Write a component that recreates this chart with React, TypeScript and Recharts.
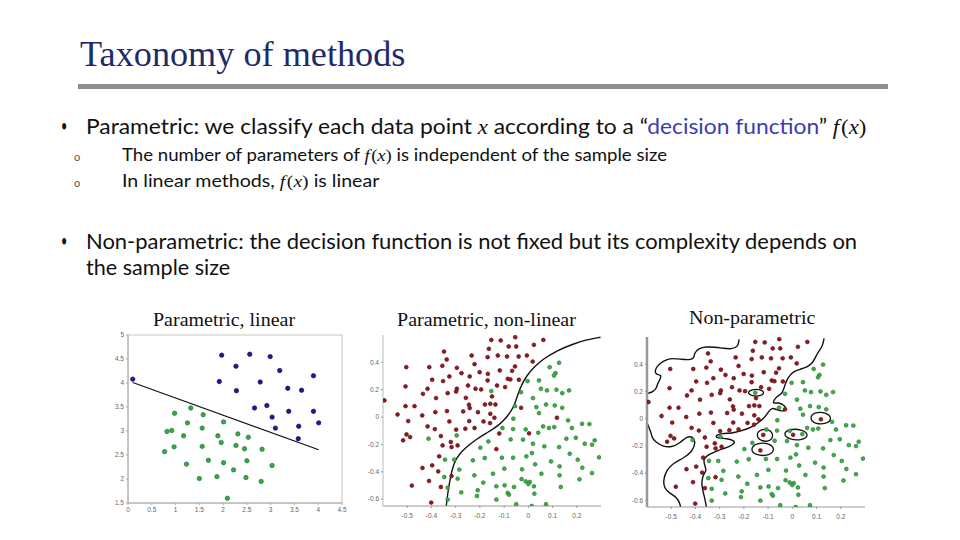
import React, { useLayoutEffect, useRef, useState } from "react";
import { ComposedChart, Scatter, Line, XAxis, YAxis, ReferenceArea } from "recharts";

type Pt = [number, number];

// --- left plot: linear boundary ---
const linearBlue: Pt[] = [
  [0.1, 4.08], [1.97, 4.58], [2.56, 4.6], [2.99, 4.55], [2.27, 4.35], [3.19, 4.26],
  [3.9, 4.15], [1.92, 4.03], [2.78, 4.02], [2.28, 3.84], [3.36, 3.89], [3.65, 3.85],
  [2.66, 3.48], [2.92, 3.53], [3.38, 3.41], [3.9, 3.41], [3.03, 3.29], [3.1, 3.06],
  [3.59, 3.1], [4.01, 3.17], [3.58, 2.84],
];
const linearGreen: Pt[] = [
  [1.32, 3.48], [0.98, 3.37], [1.58, 3.34], [1.25, 3.17], [2.01, 3.19], [0.82, 2.99],
  [0.92, 3.01], [1.56, 3.06], [1.17, 2.9], [1.89, 2.9], [2.31, 2.94], [2.53, 2.87],
  [1.96, 2.76], [0.97, 2.67], [1.56, 2.68], [2.27, 2.7], [2.45, 2.63], [2.82, 2.62],
  [0.77, 2.57], [1.69, 2.39], [1.23, 2.31], [2.01, 2.34], [2.5, 2.38], [3.03, 2.28],
  [2.22, 2.19], [1.5, 2.01], [1.87, 2.05], [2.48, 2.03], [2.8, 1.95], [2.09, 1.6],
];
const linearBoundary: Pt[] = [[0.1, 4.01], [4.01, 2.61]];
const linearXTicks = [0, 0.5, 1, 1.5, 2, 2.5, 3, 3.5, 4, 4.5];
const linearYTicks = [1.5, 2, 2.5, 3, 3.5, 4, 4.5, 5];

// --- shared two-class sample (middle and right plots) ---
const redPoints: Pt[] = [
  [-0.054, 0.584], [-0.153, 0.564], [-0.114, 0.56], [0.062, 0.564], [-0.081, 0.516], [-0.05, 0.516],
  [-0.163, 0.499], [0.023, 0.528], [-0.348, 0.479], [-0.234, 0.45], [-0.126, 0.45], [-0.088, 0.443],
  [-0.04, 0.443], [-0.006, 0.45], [-0.337, 0.421], [-0.168, 0.438], [0.018, 0.406], [-0.504, 0.365],
  [-0.409, 0.365], [-0.355, 0.375], [-0.222, 0.387], [-0.295, 0.36], [-0.055, 0.37], [-0.118, 0.341],
  [-0.201, 0.328], [-0.167, 0.316], [-0.276, 0.321], [-0.067, 0.338], [-0.326, 0.297], [-0.242, 0.297],
  [-0.397, 0.273], [-0.352, 0.263], [-0.168, 0.268], [-0.085, 0.28], [-0.074, 0.275], [-0.039, 0.273],
  [-0.507, 0.224], [-0.416, 0.207], [-0.295, 0.207], [-0.249, 0.231], [-0.333, 0.175], [-0.298, 0.187],
  [-0.218, 0.207], [-0.195, 0.202], [-0.129, 0.231], [-0.096, 0.219], [-0.435, 0.17], [-0.381, 0.139],
  [-0.594, 0.122], [-0.258, 0.141], [-0.15, 0.151], [-0.179, 0.092], [-0.157, 0.097], [-0.136, 0.092],
  [-0.507, 0.08], [-0.47, 0.08], [-0.245, 0.09], [-0.336, 0.044], [-0.269, 0.041], [-0.384, 0.036],
  [-0.242, 0.066], [-0.208, 0.036], [-0.03, 0.068], [-0.438, 0.012], [-0.54, 0.019], [-0.157, 0.024],
  [-0.326, -0.032], [-0.244, -0.029], [-0.185, -0.032], [-0.14, -0.005], [-0.496, -0.029], [-0.416, -0.068],
  [-0.298, -0.092], [-0.26, -0.085], [-0.222, -0.08], [-0.158, -0.044], [-0.386, -0.088], [-0.503, -0.127],
  [-0.488, -0.146], [-0.361, -0.139], [0.118, -0.005], [-0.517, -0.17], [-0.32, -0.182], [-0.354, -0.207],
  [-0.317, -0.219], [-0.292, -0.207], [-0.132, -0.234], [-0.368, -0.287], [-0.397, -0.353], [-0.437, -0.372],
  [-0.372, -0.397], [-0.317, -0.431], [-0.41, -0.467], [-0.361, -0.511], [-0.481, -0.501], [-0.401, -0.625],
  [0.003, -0.119], [-0.12, -0.12],
];
const greenPoints: Pt[] = [
  [0.088, 0.365], [0.127, 0.397], [0.112, 0.321], [0.106, 0.304], [-0.003, 0.263], [0.044, 0.268],
  [-0.03, 0.182], [-0.153, 0.19], [0.077, 0.195], [0.052, 0.207], [0.14, 0.175], [0.168, 0.195],
  [0.116, 0.2], [0.019, 0.139], [0.073, 0.092], [0.109, 0.085], [0.033, 0.073], [0.14, 0.068],
  [0.044, 0.029], [-0.062, -0.012], [0.164, -0.024], [0.222, -0.049], [0.252, -0.051], [0.061, -0.068],
  [0.085, -0.08], [0.107, -0.073], [0.18, -0.08], [-0.107, -0.08], [-0.011, -0.09], [-0.063, -0.088],
  [0.041, -0.114], [-0.412, -0.158], [-0.296, -0.134], [-0.165, -0.178], [-0.073, -0.163], [-0.022, -0.165],
  [0.019, -0.195], [0.066, -0.214], [0.157, -0.158], [0.196, -0.151], [0.233, -0.195], [0.263, -0.202],
  [0.274, -0.17], [-0.198, -0.224], [0.127, -0.219], [0.171, -0.268], [-0.229, -0.316], [-0.18, -0.299],
  [-0.109, -0.297], [-0.063, -0.297], [-0.008, -0.287], [0.015, -0.263], [-0.344, -0.311], [-0.306, -0.311],
  [0.094, -0.324], [0.204, -0.311], [0.292, -0.294], [0.028, -0.345], [0.129, -0.36], [0.223, -0.37],
  [-0.285, -0.384], [-0.099, -0.377], [-0.026, -0.382], [-0.347, -0.438], [-0.292, -0.45], [-0.223, -0.426],
  [-0.146, -0.414], [0.054, -0.414], [0.129, -0.426], [0.263, -0.409], [-0.028, -0.453], [-0.011, -0.47],
  [0.006, -0.474], [0.211, -0.455], [0, -0.489], [-0.186, -0.479], [-0.098, -0.499], [-0.059, -0.511],
  [-0.132, -0.506], [0.023, -0.506], [0.134, -0.511], [-0.333, -0.516], [-0.085, -0.555], [-0.08, -0.567],
  [0.025, -0.56], [-0.209, -0.535], [-0.212, -0.577], [-0.277, -0.55], [-0.333, -0.603], [-0.132, -0.603],
  [-0.05, -0.637], [0.014, -0.65], [0.073, -0.637], [-0.055, 0.08],
];
const xTicks = [-0.5, -0.4, -0.3, -0.2, -0.1, 0, 0.1, 0.2];
const yTicks = [-0.6, -0.4, -0.2, 0, 0.2, 0.4];

// middle plot: smooth parametric boundary
const smoothBoundary: Pt[] = [
  [-0.339, -0.652], [-0.333, -0.56], [-0.322, -0.438], [-0.306, -0.328], [-0.284, -0.268],
  [-0.256, -0.219], [-0.212, -0.158], [-0.164, -0.109], [-0.123, -0.061], [-0.095, -0.012],
  [-0.074, 0.036], [-0.058, 0.085], [-0.047, 0.146], [-0.03, 0.231], [-0.006, 0.304],
  [0.022, 0.365], [0.063, 0.426], [0.118, 0.487], [0.187, 0.535], [0.242, 0.567], [0.298, 0.584],
];

// right plot: non-parametric boundary pieces
const npTop: Pt[] = [
  [-0.22, 0.583], [-0.223, 0.529], [-0.251, 0.51], [-0.285, 0.517], [-0.32, 0.525], [-0.354, 0.529],
  [-0.388, 0.517], [-0.405, 0.48], [-0.405, 0.444], [-0.423, 0.431], [-0.457, 0.436], [-0.492, 0.444],
  [-0.519, 0.436], [-0.547, 0.407], [-0.565, 0.37], [-0.567, 0.333], [-0.554, 0.321], [-0.54, 0.321],
  [-0.547, 0.284], [-0.556, 0.26], [-0.561, 0.223], [-0.574, 0.199], [-0.595, 0.186],
];
const npMain: Pt[] = [
  [0.131, 0.59], [0.125, 0.529], [0.107, 0.493], [0.094, 0.444], [0.08, 0.402], [0.059, 0.377],
  [0.032, 0.363], [0.004, 0.346], [-0.012, 0.314], [-0.023, 0.284], [-0.03, 0.248], [-0.037, 0.211],
  [-0.044, 0.181], [-0.065, 0.162], [-0.076, 0.137], [-0.081, 0.108], [-0.058, 0.12], [-0.034, 0.1],
  [-0.023, 0.071], [-0.04, 0.051], [-0.065, 0.066], [-0.085, 0.081], [-0.099, 0.049], [-0.113, 0.012],
  [-0.131, -0.017], [-0.154, -0.047], [-0.182, -0.074], [-0.216, -0.093], [-0.251, -0.108],
  [-0.289, -0.108], [-0.32, -0.125], [-0.309, -0.145], [-0.271, -0.145], [-0.24, -0.162],
  [-0.237, -0.181], [-0.264, -0.211], [-0.295, -0.225], [-0.326, -0.25], [-0.354, -0.272],
  [-0.368, -0.304], [-0.361, -0.348], [-0.354, -0.382], [-0.368, -0.414], [-0.375, -0.463],
  [-0.371, -0.525], [-0.361, -0.586], [-0.354, -0.66],
];
const npLow: Pt[] = [
  [-0.6, -0.03], [-0.584, -0.096], [-0.579, -0.145], [-0.561, -0.176], [-0.533, -0.206],
  [-0.499, -0.211], [-0.464, -0.181], [-0.437, -0.132], [-0.409, -0.132], [-0.399, -0.176],
  [-0.413, -0.243], [-0.45, -0.292], [-0.492, -0.328], [-0.519, -0.377], [-0.533, -0.451],
  [-0.529, -0.512], [-0.506, -0.549], [-0.478, -0.578], [-0.464, -0.623], [-0.46, -0.66],
];
const npLoops: Pt[][] = [
  [[-0.187, 0.19], [-0.168, 0.215], [-0.13, 0.215], [-0.113, 0.19], [-0.13, 0.165], [-0.168, 0.165]],
  [[0.07, 0.005], [0.092, 0.05], [0.142, 0.045], [0.165, 0.0], [0.142, -0.04], [0.092, -0.04]],
  [[-0.04, -0.112], [-0.012, -0.075], [0.042, -0.08], [0.07, -0.12], [0.042, -0.16], [-0.012, -0.155]],
  [[-0.15, -0.12], [-0.133, -0.077], [-0.093, -0.08], [-0.076, -0.125], [-0.093, -0.17], [-0.133, -0.165]],
  [[-0.175, -0.225], [-0.148, -0.177], [-0.093, -0.18], [-0.07, -0.23], [-0.098, -0.275], [-0.152, -0.27]],
];

const toXY = (pts: Pt[]) => pts.map(([x, y]) => ({ x, y }));

const dot = (fill: string, stroke: string, r: number) => (p: any) => (
  <circle cx={p.cx} cy={p.cy} r={r} fill={fill} stroke={stroke} strokeWidth={0.7} />
);

const tickStyle = { fontSize: 6.5, fill: "#666", fontFamily: "Liberation Sans" };

// scale a single text line horizontally to the width it has on the slide
function Fit({ x, cy, w, size, family, color = "#111", children }: any) {
  const ref = useRef<HTMLDivElement>(null);
  const [s, setS] = useState(1);
  useLayoutEffect(() => {
    if (ref.current) setS(w / ref.current.scrollWidth);
  }, [w]);
  return (
    <div
      ref={ref}
      style={{
        position: "absolute",
        left: x,
        top: cy - size * 0.6,
        fontSize: size,
        lineHeight: `${size * 1.2}px`,
        fontFamily: family,
        color,
        whiteSpace: "nowrap",
        transform: `scaleX(${s})`,
        transformOrigin: "0 0",
      }}
    >
      {children}
    </div>
  );
}

const fx = (
  <span style={{ fontFamily: "Liberation Serif" }}>
    <i>f</i>&#8202;(<i>x</i>)
  </span>
);
const ix = <i style={{ fontFamily: "Liberation Serif" }}>x</i>;

function LinearPlot() {
  return (
    <ComposedChart width={250} height={195} margin={{ top: 10, right: 8, bottom: 0, left: 0 }}>
      <XAxis type="number" dataKey="x" domain={[0, 4.5]} ticks={linearXTicks} interval={0}
        allowDataOverflow height={17} tick={tickStyle} tickSize={2} stroke="#aaa" />
      <YAxis type="number" dataKey="y" domain={[1.5, 5]} ticks={linearYTicks} interval={0}
        allowDataOverflow width={28} tick={tickStyle} tickSize={2} stroke="#aaa" />
      <ReferenceArea x1={0} x2={4.5} y1={1.5} y2={5} fill="none" stroke="#c4c4c4" strokeWidth={1} />
      <Line data={toXY(linearBoundary)} dataKey="y" type="linear" stroke="#111" strokeWidth={1.2}
        dot={false} isAnimationActive={false} />
      <Scatter data={toXY(linearBlue)} shape={dot("#1b1b96", "#101060", 2.2)} isAnimationActive={false} />
      <Scatter data={toXY(linearGreen)} shape={dot("#3aa64a", "#1f7a2c", 2.2)} isAnimationActive={false} />
    </ComposedChart>
  );
}

function SamplePlot({ curves, loops, leftAxis, margin, yWidth, xHeight }: any) {
  return (
    <ComposedChart width={250} height={195} margin={margin}>
      <XAxis type="number" dataKey="x" domain={[-0.6, 0.3]} ticks={xTicks} interval={0}
        allowDataOverflow height={xHeight} tick={tickStyle} tickSize={2} tickMargin={5} stroke="#999" />
      <YAxis type="number" dataKey="y" domain={[-0.65, 0.6]} ticks={yTicks} interval={0}
        allowDataOverflow width={yWidth} tick={tickStyle} tickSize={2}
        axisLine={leftAxis} tickLine={{ stroke: "#999" }} />
      <Scatter data={toXY(redPoints)} shape={dot("#8e1c22", "#6a1014", 1.9)} isAnimationActive={false} />
      <Scatter data={toXY(greenPoints)} shape={dot("#3fae4a", "#25802f", 1.9)} isAnimationActive={false} />
      {curves.map((c: Pt[], i: number) => (
        <Line key={"c" + i} data={toXY(c)} dataKey="y" type="basis" stroke="#111" strokeWidth={1.4}
          dot={false} isAnimationActive={false} />
      ))}
      {loops.map((c: Pt[], i: number) => (
        <Line key={"l" + i} data={toXY(c)} dataKey="y" type="basisClosed" stroke="#111" strokeWidth={1.3}
          dot={false} isAnimationActive={false} />
      ))}
    </ComposedChart>
  );
}

export default function App() {
  return (
    <div style={{ position: "absolute", left: 0, top: 0, width: 960, height: 540, background: "#fff", overflow: "hidden" }}>
      <Fit x={80} cy={55} w={325} size={36} family="Liberation Serif" color="#1e2a6a">
        Taxonomy of methods
      </Fit>
      <div style={{ position: "absolute", left: 78, top: 84, width: 810, height: 5, background: "#8e8e8e" }} />

      <Fit x={61} cy={126} w={6} size={18} family="Lato">•</Fit>
      <Fit x={86} cy={126} w={780} size={21} family="Lato">
        Parametric: we classify each data point {ix} according to a “
        <span style={{ color: "#3c3cb0" }}>decision function</span>” {fx}
      </Fit>
      <Fit x={74} cy={157} w={6} size={11} family="Lato" color="#555">o</Fit>
      <Fit x={122} cy={155} w={545} size={17} family="Lato">
        The number of parameters of {fx} is independent of the sample size
      </Fit>
      <Fit x={74} cy={183} w={6} size={11} family="Lato" color="#555">o</Fit>
      <Fit x={122} cy={181} w={257} size={17} family="Lato">
        In linear methods, {fx} is linear
      </Fit>

      <Fit x={61} cy={241} w={6} size={18} family="Lato">•</Fit>
      <Fit x={86} cy={241} w={771} size={21} family="Lato">
        Non-parametric: the decision function is not fixed but its complexity depends on
      </Fit>
      <Fit x={86} cy={267} w={144} size={21} family="Lato">
        the sample size
      </Fit>

      <Fit x={153} cy={320} w={142} size={19} family="Liberation Serif">Parametric, linear</Fit>
      <Fit x={397} cy={320} w={179} size={19} family="Liberation Serif">Parametric, non-linear</Fit>
      <Fit x={689} cy={318} w={126} size={19} family="Liberation Serif">Non-parametric</Fit>

      <div style={{ position: "absolute", left: 100, top: 325 }}>
        <LinearPlot />
      </div>
      <div style={{ position: "absolute", left: 360, top: 325 }}>
        <SamplePlot curves={[smoothBoundary]} loops={[]} leftAxis={{ stroke: "#bbb" }}
          margin={{ top: 10, right: 9, bottom: 0, left: 0 }} yWidth={23} xHeight={14} />
      </div>
      <div style={{ position: "absolute", left: 625, top: 325 }}>
        <SamplePlot curves={[npTop, npMain, npLow]} loops={npLoops}
          leftAxis={{ stroke: "#999", strokeWidth: 2.5 }}
          margin={{ top: 12, right: 10, bottom: 0, left: 0 }} yWidth={22} xHeight={13} />
      </div>
    </div>
  );
}
